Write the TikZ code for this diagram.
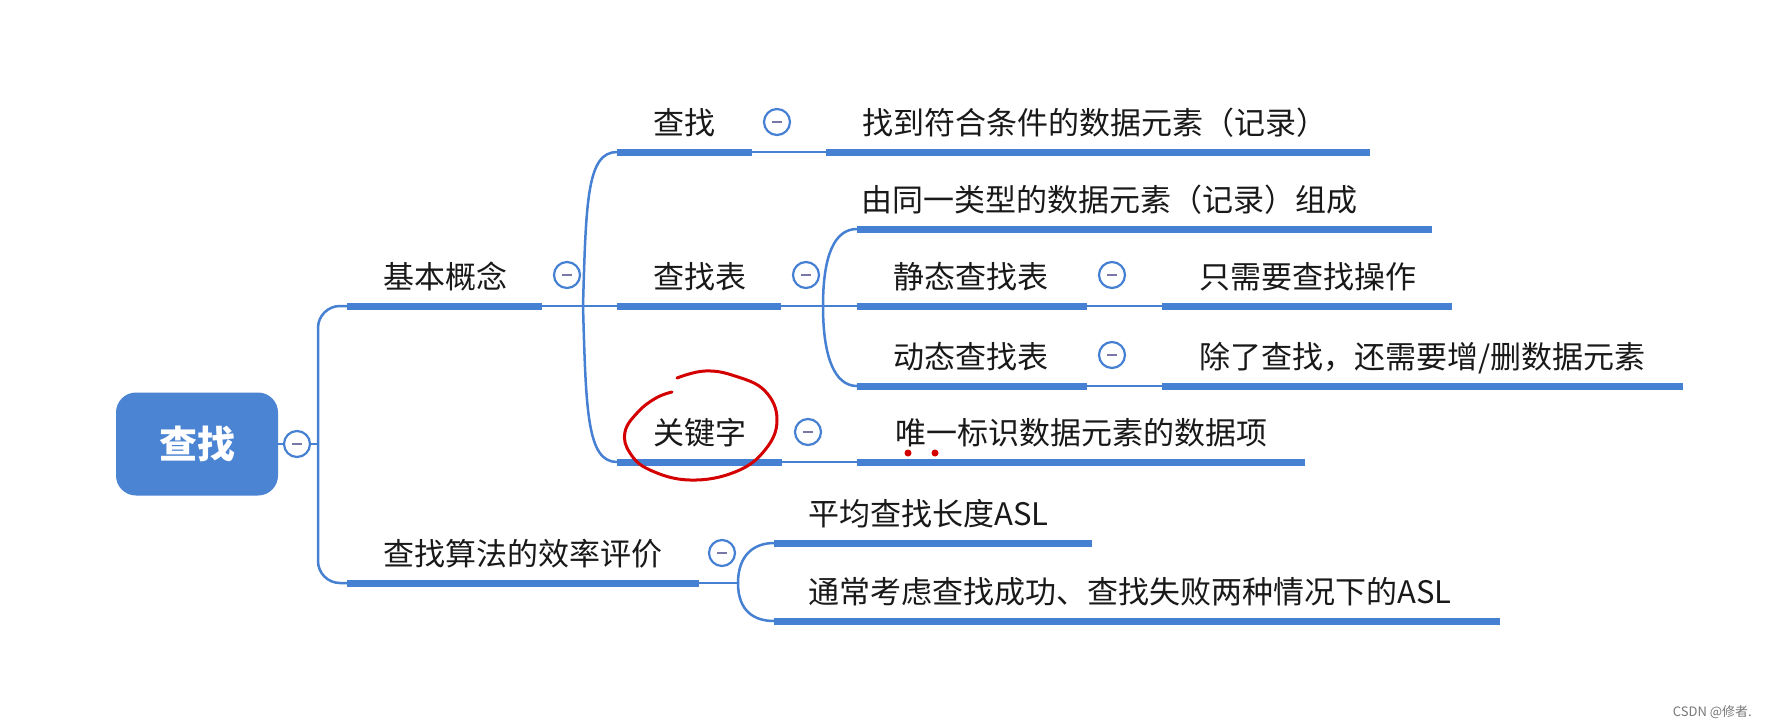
\documentclass[tikz,border=0pt]{standalone}
\usepackage{fontspec}
\setmainfont{Noto Sans CJK SC}
\definecolor{mmblue}{RGB}{70,128,210}
\definecolor{rootblue}{RGB}{74,132,211}
\definecolor{minusgray}{RGB}{120,120,168}
\definecolor{inkred}{RGB}{212,0,0}
\definecolor{txt}{RGB}{25,25,25}
\definecolor{wmgray}{RGB}{120,120,120}
\tikzset{
  lbl/.style={anchor=base west, inner sep=0pt, text=txt, font=\fontsize{31}{36}\selectfont},
  uline/.style={draw=mmblue, line width=7pt},
  conn/.style={draw=mmblue, line width=2.5pt},
  minus/.style={circle, draw=mmblue, line width=2.2pt, fill=white, minimum size=26pt, inner sep=0pt,
     path picture={\draw[minusgray, line width=2pt] ([xshift=-5pt]path picture bounding box.center) -- ([xshift=5pt]path picture bounding box.center);}},
  rootbox/.style={rectangle, rounded corners=20pt, fill=rootblue, minimum width=162pt, minimum height=103pt, inner sep=0pt, text=white, font=\bfseries\fontsize{38}{44}\selectfont},
  redink/.style={draw=inkred, line width=3pt, line cap=round, line join=round},
}
\begin{document}
\begin{tikzpicture}[x=1pt,y=-1pt]
\useasboundingbox[fill=white] (0,0) rectangle (1765,726);

% ---------- coordinates ----------
\coordinate (j0) at (318,444);
% level 1
\coordinate (a1) at (347,306); \coordinate (a2) at (542,306); \coordinate (ja) at (583,306);
\coordinate (b1) at (347,583); \coordinate (b2) at (699,583); \coordinate (jb) at (738,583);
% level 2 (A)
\coordinate (A1s) at (617,152); \coordinate (A1e) at (752,152);
\coordinate (A1as) at (826,152); \coordinate (A1ae) at (1370,152);
\coordinate (A2s) at (617,306); \coordinate (A2e) at (781,306); \coordinate (jc) at (823,306);
\coordinate (A2as) at (857,229); \coordinate (A2ae) at (1432,229);
\coordinate (A2bs) at (857,306); \coordinate (A2be) at (1087,306);
\coordinate (A2b1s) at (1162,306); \coordinate (A2b1e) at (1452,306);
\coordinate (A2cs) at (857,386); \coordinate (A2ce) at (1087,386);
\coordinate (A2c1s) at (1162,386); \coordinate (A2c1e) at (1683,386);
\coordinate (A3s) at (617,462); \coordinate (A3e) at (782,462);
\coordinate (A3as) at (857,462); \coordinate (A3ae) at (1305,462);
% level 2 (B)
\coordinate (B1s) at (774,543); \coordinate (B1e) at (1092,543);
\coordinate (B2s) at (774,621); \coordinate (B2e) at (1500,621);

% ---------- root ----------
\node[rootbox] (root) at (197,444) {查找};

% ---------- thin connectors ----------
\draw[conn] (root.east) -- (j0);
\draw[conn, rounded corners=22pt] (a1) -| (j0) |- (b1);
\draw[conn] (a2) -- (A2s);
\draw[conn] (ja) .. controls +(3,-105) and +(-30,0) .. (A1s);
\draw[conn] (ja) .. controls +(3,105) and +(-30,0) .. (A3s);
\draw[conn] (A1e) -- (A1as);
\draw[conn] (A2e) -- (A2bs);
\draw[conn] (jc) .. controls +(0,-52) and +(-22,0) .. (A2as);
\draw[conn] (jc) .. controls +(0,52) and +(-22,0) .. (A2cs);
\draw[conn] (A2be) -- (A2b1s);
\draw[conn] (A2ce) -- (A2c1s);
\draw[conn] (A3e) -- (A3as);
\draw[conn] (b2) -- (jb);
\draw[conn] (jb) .. controls +(0,-28) and +(-20,0) .. (B1s);
\draw[conn] (jb) .. controls +(0,28) and +(-20,0) .. (B2s);

% ---------- thick underlines ----------
\draw[uline] (a1) -- (a2);
\draw[uline] (b1) -- (b2);
\draw[uline] (A1s) -- (A1e);
\draw[uline] (A1as) -- (A1ae);
\draw[uline] (A2s) -- (A2e);
\draw[uline] (A2as) -- (A2ae);
\draw[uline] (A2bs) -- (A2be);
\draw[uline] (A2b1s) -- (A2b1e);
\draw[uline] (A2cs) -- (A2ce);
\draw[uline] (A2c1s) -- (A2c1e);
\draw[uline] (A3s) -- (A3e);
\draw[uline] (A3as) -- (A3ae);
\draw[uline] (B1s) -- (B1e);
\draw[uline] (B2s) -- (B2e);

% ---------- collapse circles ----------
\node[minus] (m0) at (297,444) {};
\node[minus] (mA) at (567,275) {};
\node[minus] (mB) at (722,553) {};
\node[minus] (mA1) at (777,122) {};
\node[minus] (mA2) at (806,275) {};
\node[minus] (mA2b) at (1112,275) {};
\node[minus] (mA2c) at (1112,355) {};
\node[minus] (mA3) at (808,432) {};

% ---------- labels ----------
\node[lbl] (tA) at (383,288) {基本概念};
\node[lbl] (tB) at (383,565) {查找算法的效率评价};
\node[lbl] (tA1) at (653,134) {查找};
\node[lbl] (tA1a) at (862,134) {找到符合条件的数据元素（记录）};
\node[lbl] (tA2) at (653,288) {查找表};
\node[lbl] (tA2a) at (861,211) {由同一类型的数据元素（记录）组成};
\node[lbl] (tA2b) at (893,288) {静态查找表};
\node[lbl] (tA2b1) at (1199,288) {只需要查找操作};
\node[lbl] (tA2c) at (893,368) {动态查找表};
\node[lbl] (tA2c1) at (1199,368) {除了查找，还需要增/删数据元素};
\node[lbl] (tA3) at (653,444) {关键字};
\node[lbl] (tA3a) at (895,444) {唯一标识数据元素的数据项};
\node[lbl] (tB1) at (808,525) {平均查找长度ASL};
\node[lbl] (tB2) at (808,603) {通常考虑查找成功、查找失败两种情况下的ASL};

% ---------- red hand annotation ----------
\draw[redink] plot[smooth, tension=0.7] coordinates {(672,392) (656,398) (638,412) (625,432) (630,453) (650,470) (690,480) (735,472) (765,450) (777,420) (765,391) (735,376) (705,371) (677,378)};
\fill[inkred] (908,453) circle[radius=3.5pt];
\fill[inkred] (935,453) circle[radius=3.5pt];

% ---------- watermark ----------
\node[anchor=base east, inner sep=0pt, text=wmgray, font=\fontsize{13}{15}\selectfont] (wm) at (1752,716) {CSDN @修者.};
\end{tikzpicture}
\end{document}
